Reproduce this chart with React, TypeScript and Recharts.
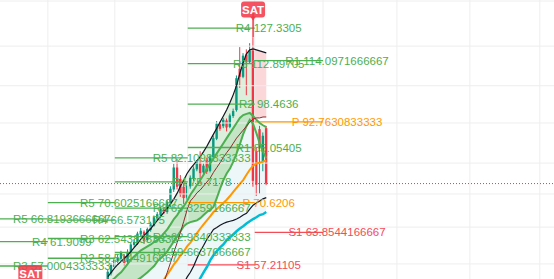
import React from "react"
import {
  ComposedChart,
  Bar,
  Line,
  Area,
  XAxis,
  YAxis,
  ReferenceLine,
  ReferenceDot,
} from "recharts"

// candles (index = bar number)
const OPEN = [54.5, 55.6, 56.8, 58.0, 58.4, 59.0, 57.8, 59.6, 61.2, 61.5, 63.4, 64.0, 62.2, 64.4, 65.3, 67.0, 67.6, 69.0, 68.4, 70.5, 73.8, 79.5, 76.5, 74.5, 71.8, 74.6, 76.5, 79.0, 80.8, 78.2, 81.6, 78.6, 82.3, 87.6, 92.0, 91.4, 93.2, 91.2, 94.6, 96.5, 111.0, 108.0, 116.5, 113.5, 118.0, 84.0, 90.5, 81.0, 90.8]
const HIGH = [56.3, 57.6, 58.8, 59.3, 60.0, 59.3, 60.3, 61.8, 62.4, 64.0, 64.8, 64.3, 65.0, 66.2, 67.6, 68.4, 69.6, 69.5, 71.2, 74.6, 80.5, 81.8, 77.5, 75.5, 75.5, 77.4, 79.8, 81.5, 84.0, 80.6, 82.2, 83.0, 88.5, 93.0, 92.8, 94.0, 93.8, 95.4, 97.0, 108.5, 119.4, 117.0, 118.5, 121.0, 123.5, 85.0, 91.5, 89.5, 91.5]
const LOW = [54.3, 55.2, 56.5, 57.6, 58.0, 57.1, 57.5, 59.3, 60.8, 61.2, 63.0, 61.4, 61.9, 64.0, 65.0, 66.5, 67.2, 67.9, 68.0, 69.5, 73.2, 73.8, 72.0, 70.3, 71.3, 74.0, 76.0, 78.5, 75.2, 77.6, 77.8, 78.2, 82.0, 87.2, 90.0, 90.8, 89.8, 90.8, 94.0, 96.0, 104.0, 107.5, 101.5, 113.0, 74.5, 72.2, 72.8, 78.5, 74.9]
const CLOSE = [55.9, 57.2, 58.3, 58.6, 59.6, 57.6, 59.8, 61.3, 61.8, 63.6, 64.2, 62.0, 64.6, 65.6, 67.2, 67.9, 69.1, 68.3, 70.8, 74.0, 79.5, 74.5, 72.6, 71.7, 74.8, 76.8, 79.2, 81.0, 78.0, 80.0, 78.4, 82.5, 87.8, 92.2, 90.6, 93.4, 91.0, 94.8, 96.2, 107.5, 108.0, 116.0, 113.5, 118.0, 76.0, 75.0, 85.0, 88.5, 75.3]

// indicator lines
const UPPER = [55.0, 55.8, 56.6, 57.3, 57.9, 58.5, 59.1, 59.9, 60.7, 61.5, 62.4, 63.2, 63.9, 64.7, 65.6, 66.5, 67.4, 68.4, 69.3, 70.3, 71.5, 72.9, 74.7, 76.2, 77.9, 79.2, 80.3, 81.4, 82.5, 83.9, 85.4, 87.2, 89.0, 90.8, 92.7, 94.6, 96.6, 99.0, 101.7, 104.9, 109.3, 113.2, 116.7, 118.3, 118.7, 118.3, 117.9, 117.5, 117.1]
const GREEN_FAST = [53.8, 54.2, 54.7, 55.3, 55.8, 56.6, 57.4, 58.3, 58.9, 59.5, 60.1, 60.5, 60.9, 61.3, 61.8, 62.2, 62.8, 63.7, 64.5, 65.6, 66.8, 67.7, 68.9, 69.8, 71.0, 72.5, 73.7, 75.0, 76.2, 77.6, 79.2, 80.6, 82.0, 83.4, 84.8, 86.3, 87.8, 89.3, 90.8, 92.4, 94.0, 94.9, 95.3, 95.6, 94.6, 93.4, 92.4, 91.7, 91.1]
const GREEN_SLOW = [49.7, 50.2, 50.7, 51.2, 51.7, 52.3, 53.0, 53.6, 54.0, 54.4, 54.8, 55.3, 55.8, 56.4, 57.0, 57.9, 58.5, 59.1, 59.9, 60.9, 62.0, 63.0, 64.1, 65.2, 65.8, 66.1, 66.3, 66.5, 67.0, 67.7, 68.4, 68.9, 69.6, 71.7, 74.0, 76.2, 77.9, 79.2, 81.1, 83.4, 86.0, 89.0, 91.4, 93.4, 92.1, 89.3, 86.3, 83.9, 82.0]
const MAROON = [null, null, null, null, null, null, null, null, null, null, null, null, null, null, 49.0, 50.6, 52.3, 54.0, 55.8, 57.7, 59.7, 61.7, 63.9, 66.3, 68.9, 71.0, 71.9, 73.0, 73.7, 74.7, 75.7, 76.7, 78.2, 79.5, 80.8, 82.3, 83.6, 84.8, 86.3, 87.8, 89.0, 90.2, 91.4, 92.7, 93.6, 94.0, 94.0, 94.3, 94.3]
const ORANGE = [null, null, null, null, null, null, null, null, null, null, null, null, null, null, null, 52.6, 53.7, 54.5, 55.4, 56.3, 57.3, 58.1, 59.1, 59.9, 60.9, 61.7, 62.6, 63.7, 64.7, 65.6, 66.5, 67.4, 68.4, 69.1, 69.8, 70.5, 71.3, 72.2, 73.2, 74.2, 75.2, 76.2, 77.6, 78.9, 80.0, 80.6, 80.8, 81.1, 81.4]
const LOWER = [null, null, null, null, null, null, null, null, null, null, null, null, null, null, null, null, null, null, null, null, null, null, 52.6, 53.7, 54.9, 55.8, 57.0, 58.5, 59.9, 61.1, 62.4, 63.4, 64.5, 64.9, 65.4, 65.8, 66.1, 66.3, 66.5, 66.8, 67.2, 67.7, 68.1, 69.1, 70.0, 70.5, 71.0, 71.5, 71.8]
const CYAN = [null, null, null, null, null, null, null, null, null, null, null, null, null, null, null, null, null, null, null, null, null, null, null, null, null, null, 52.5, 53.5, 54.7, 55.8, 56.8, 58.1, 59.1, 59.9, 60.7, 61.3, 62.2, 62.8, 63.4, 64.1, 64.7, 65.2, 65.8, 66.3, 66.8, 67.2, 67.7, 67.9, 68.4]

// pivot periods (bar-index time) and their levels
const PERIOD_START = [-38.5, -18.2, 2.1, 24.2, 44.5]
const PERIOD_END = [-18.2, 2.1, 24.2, 44.5, 65.2]
const PIVOTS_A: [string, number][] = [["R5", 66.8193666667], ["R4", 61.9099], ["R3", 57.0004333333]]
const PIVOTS_B: [string, number][] = [["R5", 70.6025166667], ["R4", 66.573175], ["R3", 62.5438333333], ["R2", 58.5144916667]]
const PIVOTS_C: [string, number][] = [["R5", 82.1098333333], ["R4", 75.7178], ["R3", 69.3259166667], ["R2", 62.9340333333], ["R1", 59.6637666667]]
const PIVOTS_D: [string, number][] = [["R4", 127.3305], ["R3", 112.89705], ["R2", 98.4636], ["R1", 85.05405], ["P", 70.6206], ["S1", 57.21105]]
const PIVOTS_E: [string, number][] = [["R1", 114.0971666667], ["P", 92.7630833333], ["S1", 63.8544166667]]
const PIVOT_LEVELS = [PIVOTS_A, PIVOTS_B, PIVOTS_C, PIVOTS_D, PIVOTS_E]

// sell signals
const SIGNAL_AT = [44, -23.5]
const SIGNAL_PRICE = [135.6, 55.6]

const GRID_TIMES = [-18.2, 2.1, 24.2, 44.5, 65.2, 87.6, 109.7, 130.9]
const GRID_PRICES = [139.5, 119.8, 104.8, 92.4, 80.7, 72.7, 65.0, 57.4]

const UP = "#089981"
const DOWN = "#f23645"
const FONT = "Liberation Sans, Arial, sans-serif"

const rows = OPEN.map((o, k) => ({
  i: k,
  o,
  h: HIGH[k],
  l: LOW[k],
  c: CLOSE[k],
  upper: UPPER[k],
  fast: GREEN_FAST[k],
  slow: GREEN_SLOW[k],
  maroon: MAROON[k],
  orange: ORANGE[k],
  lower: LOWER[k],
  cyan: CYAN[k],
  greenFill: k <= 44 ? [GREEN_SLOW[k], UPPER[k]] : null,
  bandFill: [GREEN_SLOW[k], GREEN_FAST[k]],
  pinkFill: k >= 44 ? [MAROON[k], UPPER[k]] : null,
  blueFill: k >= 9 ? [CYAN[k] ?? 50, GREEN_SLOW[k]] : null,
}))

function levelColor(name: string) {
  if (name === "P") return "#ff9800"
  if (name.startsWith("S")) return "#f44c57"
  return "#4caf50"
}

const Candle = (props: any) => {
  const { x, y, width, height, payload } = props
  const { o, h, l, c } = payload
  const color = c >= o ? UP : DOWN
  const k = h > l ? height / Math.log(h / l) : 0
  const py = (v: number) => y + Math.log(h / v) * k
  const cx = x + width / 2
  const top = py(Math.max(o, c))
  const bot = py(Math.min(o, c))
  return (
    <g>
      <line x1={cx} x2={cx} y1={y} y2={y + height} stroke={color} strokeWidth={1} />
      <rect x={cx - 1.2} y={top} width={2.4} height={Math.max(bot - top, 1)} fill={color} />
    </g>
  )
}

const PivotLabel = ({ cx, cy, text, color }: any) => (
  <text
    x={cx + 14}
    y={cy}
    textAnchor="middle"
    dominantBaseline="central"
    fill={color}
    fontSize={11.5}
    fontFamily={FONT}
  >
    {text}
  </text>
)

const SignalMarker = ({ cx, cy, pointer }: any) => (
  <g>
    {pointer && <path d={`M${cx - 3},${cy + 7} L${cx + 3},${cy + 7} L${cx},${cy + 11} Z`} fill={DOWN} fillOpacity={0.85} />}
    <rect x={cx - 12} y={cy - 8} width={24} height={16} rx={3} fill={DOWN} fillOpacity={0.85} />
    <text
      x={cx}
      y={cy + 0.5}
      textAnchor="middle"
      dominantBaseline="central"
      fill="#ffffff"
      fontSize={11.5}
      fontWeight="bold"
      fontFamily={FONT}
    >
      SAT
    </text>
  </g>
)

export default function App() {
  const last = CLOSE[CLOSE.length - 1]
  return (
    <div style={{ width: 554, height: 279, background: "#ffffff" }}>
      <style>{"body{margin:0;overflow:hidden}"}</style>
      <ComposedChart width={554} height={279} data={rows} margin={{ top: 0, right: 0, bottom: 0, left: 0 }}>
        <XAxis dataKey="i" type="number" domain={[-32.7, 135.2]} allowDataOverflow hide />
        <YAxis scale="log" domain={[54.55, 140]} allowDataOverflow hide />

        {GRID_TIMES.map((t) => (
          <ReferenceLine key={"gx" + t} x={t} stroke="#eeeeee" strokeWidth={1} />
        ))}
        {GRID_PRICES.map((p) => (
          <ReferenceLine key={"gy" + p} y={p} stroke="#eeeeee" strokeWidth={1} />
        ))}

        <Area dataKey={(d: any) => d.blueFill} stroke="none" fill="#4fa3c0" fillOpacity={0.1} activeDot={false} isAnimationActive={false} />
        <Area dataKey={(d: any) => d.greenFill} stroke="none" fill="#4caf50" fillOpacity={0.2} activeDot={false} isAnimationActive={false} />
        <Area dataKey={(d: any) => d.bandFill} stroke="none" fill="#4caf50" fillOpacity={0.15} activeDot={false} isAnimationActive={false} />
        <Area dataKey={(d: any) => d.pinkFill} stroke="none" fill={DOWN} fillOpacity={0.2} activeDot={false} isAnimationActive={false} />

        {PIVOT_LEVELS.map((levels, p) =>
          levels.map(([name, v]) => (
            <ReferenceLine
              key={`pl${p}${name}`}
              segment={[{ x: PERIOD_START[p], y: v }, { x: PERIOD_END[p], y: v }]}
              stroke={levelColor(name)}
              strokeWidth={1.3}
              ifOverflow="visible"
            />
          ))
        )}
        {PIVOT_LEVELS.map((levels, p) =>
          levels.map(([name, v]) => (
            <ReferenceDot
              key={`pt${p}${name}`}
              x={PERIOD_END[p]}
              y={v}
              r={0}
              shape={(s: any) => <PivotLabel {...s} text={`${name} ${v}`} color={levelColor(name)} />}
            />
          ))
        )}

        <Line dataKey="cyan" stroke="#00bcd4" strokeWidth={2.5} dot={false} activeDot={false} isAnimationActive={false} />
        <Line dataKey="lower" stroke="#131722" strokeWidth={1.2} dot={false} activeDot={false} isAnimationActive={false} />
        <Line dataKey="orange" stroke="#ff9800" strokeWidth={2} dot={false} activeDot={false} isAnimationActive={false} />
        <Line dataKey="slow" stroke="#4caf50" strokeWidth={2} dot={false} activeDot={false} isAnimationActive={false} />
        <Line dataKey="fast" stroke="#4caf50" strokeWidth={2} dot={false} activeDot={false} isAnimationActive={false} />
        <Line dataKey="maroon" stroke="#8b2d2d" strokeWidth={1} dot={false} activeDot={false} isAnimationActive={false} />
        <Line dataKey="upper" stroke="#131722" strokeWidth={1.2} dot={false} activeDot={false} isAnimationActive={false} />

        <Bar dataKey={(d: any) => [d.l, d.h]} barSize={3} shape={<Candle />} activeBar={false} isAnimationActive={false} />

        <ReferenceLine y={last} stroke={DOWN} strokeWidth={1} strokeDasharray="1 2" />

        {SIGNAL_AT.map((t, s) => {
          const row = rows.find((r) => r.i === t)
          return row ? (
            <ReferenceLine
              key={"sl" + s}
              segment={[{ x: t, y: SIGNAL_PRICE[s] }, { x: t, y: row.h }]}
              stroke={DOWN}
              strokeWidth={1.5}
              ifOverflow="visible"
            />
          ) : null
        })}
        {SIGNAL_AT.map((t, s) => (
          <ReferenceDot
            key={"sg" + s}
            x={t}
            y={SIGNAL_PRICE[s]}
            r={0}
            shape={(p: any) => <SignalMarker {...p} pointer={rows.some((r) => r.i === t)} />}
          />
        ))}
      </ComposedChart>
    </div>
  )
}
